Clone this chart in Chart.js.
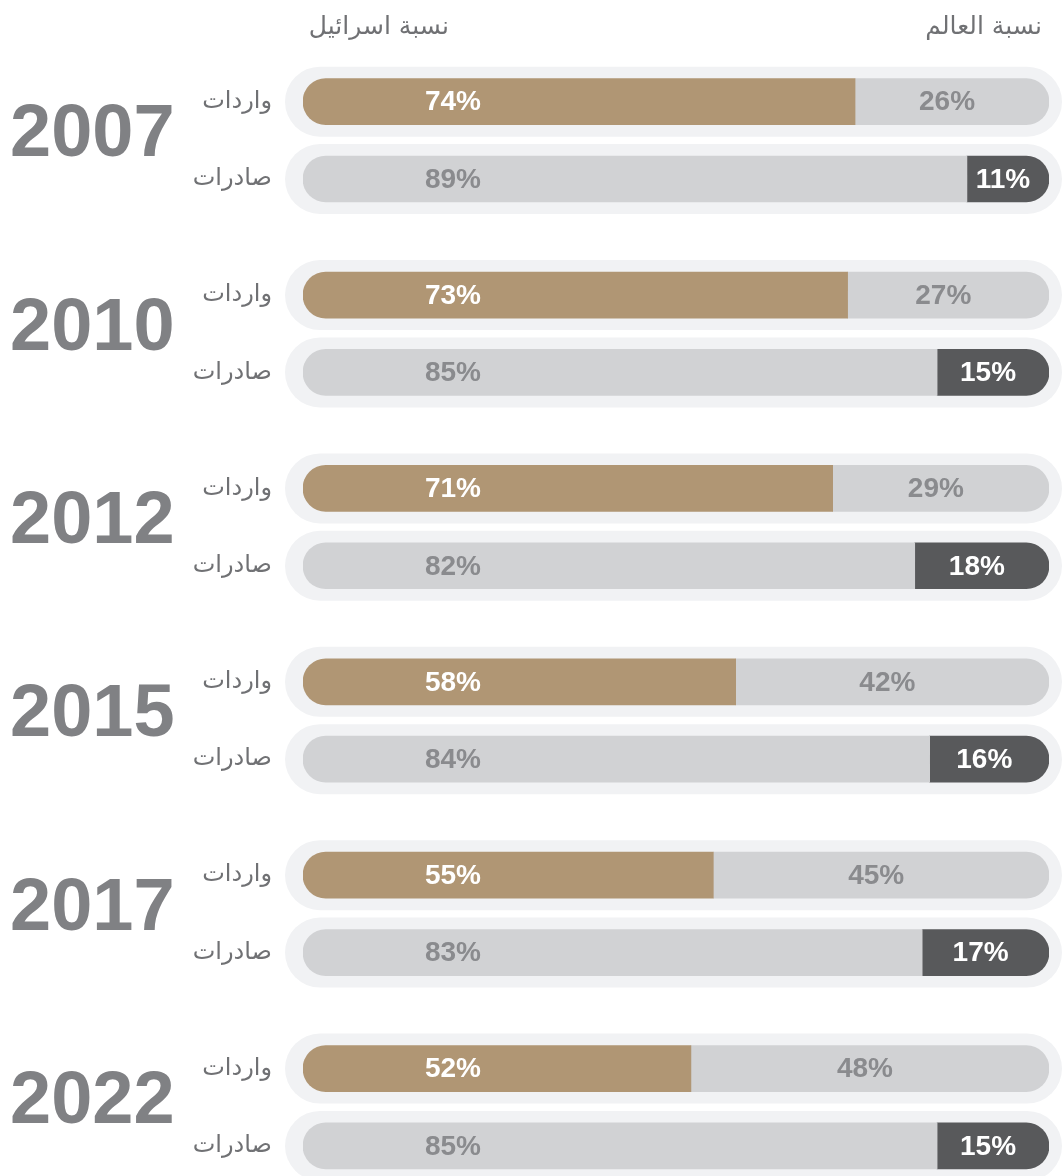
<!DOCTYPE html>
<html lang="ar">
<head>
<meta charset="utf-8">
<title>نسبة اسرائيل / نسبة العالم</title>
<script src="https://cdn.jsdelivr.net/npm/chart.js@4.4.1/dist/chart.umd.min.js"></script>
<style>
    html, body { margin: 0; padding: 0; background: #ffffff; }
    #wrap { position: relative; width: 1063px; height: 1176px; }
</style>
</head>
<body>
<div id="wrap"><canvas id="tradeShareChart"></canvas></div>
<script>
/* Israel vs world share of trade, imports / exports by year */

const years = ['2007', '2010', '2012', '2015', '2017', '2022'];
const flowLabels = ['واردات', 'صادرات'];          // imports, exports
const headerLabels = ['نسبة اسرائيل', 'نسبة العالم'];

const israelImports = [74, 73, 71, 58, 55, 52];
const worldImports  = [26, 27, 29, 42, 45, 48];
const israelExports = [89, 85, 82, 84, 83, 85];
const worldExports  = [11, 15, 18, 16, 17, 15];

const TAN = '#b09674';
const LIGHT = '#d1d2d4';
const DARK = '#58595b';
const TRACK = '#f1f2f4';
const ARABIC_FONT = '"DejaVu Sans", "Noto Sans", sans-serif';
const LATIN_FONT = '"Liberation Sans", Arial, sans-serif';

// each year is a group of two rows; rows sit on a linear index axis
const GROUP_STEP = 2.5;
const rowPos = (g, j) => g * GROUP_STEP + j;

function buildRows(importVals, exportVals) {
    const rows = [];
    years.forEach((yr, g) => {
        rows.push({ x: importVals[g], y: rowPos(g, 0), year: yr, flow: 0 });
        rows.push({ x: exportVals[g], y: rowPos(g, 1), year: yr, flow: 1 });
    });
    return rows;
}

const israelRows = buildRows(israelImports, israelExports);
const worldRows = buildRows(worldImports, worldExports);

// rounded grey "track" behind every row
const trackPlugin = {
    id: 'rowTracks',
    beforeDatasetsDraw(chart) {
        const { ctx, scales: { x, y } } = chart;
        const left = x.getPixelForValue(0) - 18;
        const right = x.getPixelForValue(100) + 13;
        const half = 35;

        ctx.save();
        ctx.fillStyle = TRACK;
        israelRows.forEach(r => {
            const cy = y.getPixelForValue(r.y);
            ctx.beginPath();
            ctx.roundRect(left, cy - half, right - left, half * 2, half);
            ctx.fill();
        });
        ctx.restore();
    }
};

// years, row names, headers and percentage labels
const labelPlugin = {
    id: 'shareLabels',
    afterDatasetsDraw(chart) {
        const { ctx, chartArea, scales: { x, y } } = chart;
        ctx.save();

        // headers
        ctx.font = `25px ${ARABIC_FONT}`;
        ctx.fillStyle = '#707174';
        ctx.textAlign = 'right';
        ctx.textBaseline = 'middle';
        ctx.direction = 'rtl';
        ctx.fillText(headerLabels[0], x.getPixelForValue(0) + 146, 27);
        ctx.fillText(headerLabels[1], x.getPixelForValue(100) - 7, 27);

        // row names
        ctx.font = `24px ${ARABIC_FONT}`;
        israelRows.forEach(r => {
            ctx.fillText(flowLabels[r.flow], chartArea.left - 31, y.getPixelForValue(r.y));
        });

        // years
        ctx.direction = 'ltr';
        ctx.font = `bold 74px ${LATIN_FONT}`;
        ctx.fillStyle = '#808184';
        ctx.textAlign = 'left';
        ctx.textBaseline = 'alphabetic';
        years.forEach((yr, g) => {
            const mid = (y.getPixelForValue(rowPos(g, 0)) + y.getPixelForValue(rowPos(g, 1))) / 2;
            ctx.fillText(yr, 10, mid + 16);
        });

        // percentages
        ctx.font = `bold 28px ${LATIN_FONT}`;
        ctx.textAlign = 'center';
        ctx.textBaseline = 'middle';

        const leftMeta = chart.getDatasetMeta(0);
        leftMeta.data.forEach((bar, i) => {
            const r = israelRows[i];
            ctx.fillStyle = r.flow === 0 ? '#ffffff' : '#8a8b8e';
            ctx.fillText(r.x + '%', chartArea.left + 150, bar.y + 1);
        });

        const rightMeta = chart.getDatasetMeta(1);
        rightMeta.data.forEach((bar, i) => {
            const r = worldRows[i];
            ctx.fillStyle = r.flow === 0 ? '#8a8b8e' : '#ffffff';
            ctx.fillText(r.x + '%', (bar.base + bar.x) / 2 - 5, bar.y + 1);
        });

        ctx.restore();
    }
};

const canvas = document.getElementById('tradeShareChart');

new Chart(canvas.getContext('2d'), {
    type: 'bar',
    data: {
        datasets: [
            {
                label: headerLabels[0],
                data: israelRows,
                backgroundColor: israelRows.map(r => r.flow === 0 ? TAN : LIGHT),
                borderWidth: 0,
                borderSkipped: false,
                borderRadius: { topLeft: 23, bottomLeft: 23, topRight: 0, bottomRight: 0 },
                barThickness: 46
            },
            {
                label: headerLabels[1],
                data: worldRows,
                backgroundColor: worldRows.map(r => r.flow === 0 ? LIGHT : DARK),
                borderWidth: 0,
                borderSkipped: false,
                borderRadius: { topLeft: 0, bottomLeft: 0, topRight: 23, bottomRight: 23 },
                barThickness: 46
            }
        ]
    },
    options: {
        indexAxis: 'y',
        responsive: true,
        maintainAspectRatio: false,
        animation: false,
        layout: { padding: { left: 303, right: 14, top: 63, bottom: 3 } },
        plugins: {
            legend: { display: false },
            tooltip: { enabled: false }
        },
        scales: {
            x: { stacked: true, min: 0, max: 100, display: false },
            y: {
                type: 'linear', stacked: true, reverse: true, offset: false,
                min: -0.5, max: 13.85, display: false
            }
        }
    },
    plugins: [trackPlugin, labelPlugin]
});
</script>
</body>
</html>
